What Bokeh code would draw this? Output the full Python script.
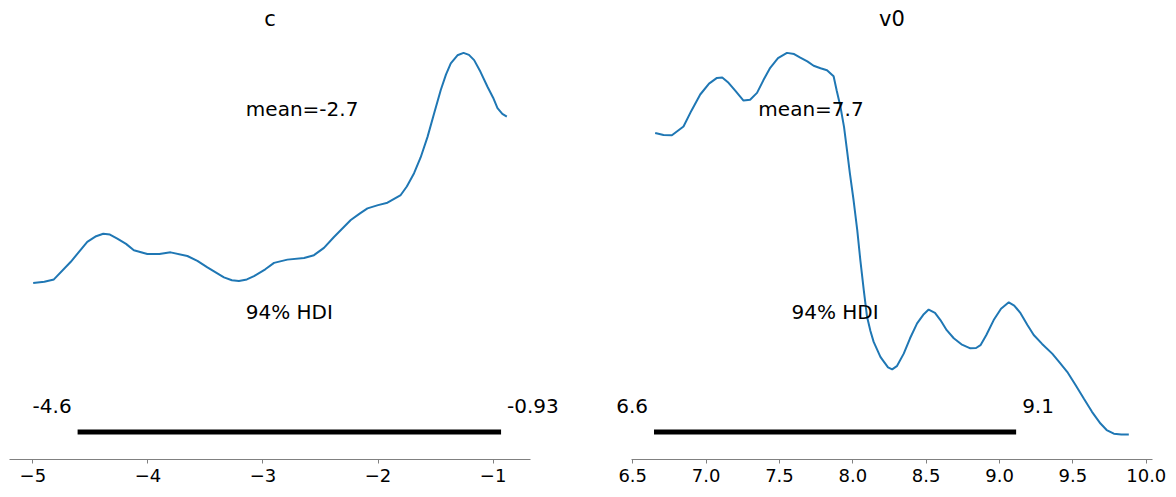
from bokeh.plotting import figure
from bokeh.layouts import row
from bokeh.models import Range1d, FixedTicker, Label
from bokeh.embed import file_html
from bokeh.resources import INLINE

# ---- data ----
c_x = [-4.997, -4.90, -4.817, -4.672, -4.527, -4.45, -4.388, -4.33, -4.266, -4.19,
       -4.122, -4.005, -3.90, -3.803, -3.657, -3.57, -3.483, -3.339, -3.27, -3.209,
       -3.14, -3.078, -2.98, -2.904, -2.788, -2.643, -2.557, -2.47, -2.383, -2.237,
       -2.16, -2.092, -2.00, -1.918, -1.803, -1.75, -1.687, -1.63, -1.570, -1.51,
       -1.455, -1.41, -1.368, -1.31, -1.257, -1.21, -1.165, -1.11, -1.049, -1.00,
       -0.962, -0.92, -0.881]
c_density = [0.389, 0.392, 0.398, 0.441, 0.491, 0.505, 0.511, 0.509, 0.499, 0.486,
             0.470, 0.461, 0.461, 0.465, 0.456, 0.444, 0.428, 0.403, 0.396, 0.394,
             0.398, 0.406, 0.423, 0.439, 0.447, 0.451, 0.458, 0.476, 0.503, 0.545,
             0.561, 0.574, 0.582, 0.588, 0.607, 0.628, 0.661, 0.700, 0.751, 0.812,
             0.867, 0.905, 0.933, 0.953, 0.959, 0.954, 0.941, 0.912, 0.875, 0.848,
             0.822, 0.808, 0.801]
c_mean = -2.66
c_hdi = [-4.611, -0.931]
c_hdi_labels = ["-4.6", "-0.93"]
c_mean_label = "mean=-2.7"
c_ticks = [-5, -4, -3, -2, -1]
c_tick_labels = ["\u22125", "\u22124", "\u22123", "\u22122", "\u22121"]

v0_x = [6.653, 6.71, 6.767, 6.846, 6.90, 6.960, 7.02, 7.074, 7.11, 7.153,
        7.20, 7.255, 7.30, 7.347, 7.39, 7.437, 7.49, 7.551, 7.60, 7.642,
        7.69, 7.733, 7.78, 7.824, 7.869, 7.89, 7.915, 7.94, 7.960, 7.98,
        8.005, 8.03, 8.051, 8.075, 8.097, 8.12, 8.142, 8.188, 8.210, 8.24,
        8.268, 8.30, 8.347, 8.39, 8.438, 8.48, 8.517, 8.56, 8.597, 8.64,
        8.688, 8.74, 8.801, 8.84, 8.870, 8.91, 8.960, 9.01, 9.063, 9.10,
        9.143, 9.19, 9.233, 9.29, 9.359, 9.41, 9.461, 9.52, 9.574, 9.63,
        9.688, 9.73, 9.779, 9.83, 9.881]
v0_density = [0.760, 0.755, 0.754, 0.776, 0.815, 0.855, 0.882, 0.896, 0.897, 0.884,
              0.864, 0.840, 0.842, 0.859, 0.890, 0.921, 0.945, 0.958, 0.955, 0.946,
              0.937, 0.926, 0.920, 0.915, 0.900, 0.865, 0.826, 0.775, 0.718, 0.660,
              0.594, 0.520, 0.446, 0.370, 0.305, 0.270, 0.243, 0.206, 0.195, 0.180,
              0.175, 0.183, 0.214, 0.252, 0.289, 0.310, 0.323, 0.315, 0.297, 0.272,
              0.252, 0.237, 0.227, 0.228, 0.235, 0.260, 0.297, 0.325, 0.341, 0.333,
              0.314, 0.285, 0.260, 0.238, 0.214, 0.192, 0.169, 0.135, 0.103, 0.070,
              0.041, 0.025, 0.016, 0.014, 0.014]
v0_mean = 7.715
v0_hdi = [6.645, 9.113]
v0_hdi_labels = ["6.6", "9.1"]
v0_mean_label = "mean=7.7"
v0_ticks = [6.5, 7.0, 7.5, 8.0, 8.5, 9.0, 9.5, 10.0]
v0_tick_labels = ["6.5", "7.0", "7.5", "8.0", "8.5", "9.0", "9.5", "10.0"]

FONT = "DejaVu Sans"
TXT = "20px"
TICK = "18px"
TITLE_PX = 21
FIG_W = 588
FRAME_W = 521

# approximate DejaVu Sans advance widths (em) used to centre the titles
_ADV = {"c": 0.550, "v": 0.592, "0": 0.636}


def text_width(s, size):
    return sum(_ADV.get(ch, 0.6) for ch in s) * size


def add_label(p, x, y, text, align, x_off=0):
    p.add_layout(Label(x=x, y=y, text=text, text_align=align,
                       text_baseline="alphabetic", text_font=FONT,
                       text_font_size=TXT, text_color="black",
                       x_offset=x_off, y_offset=6))


def panel(title, xs, dens, mean, hdi, hdi_labels, mean_label, ticks, tick_labels,
          axis_left_px):
    xmin, xmax = min(xs), max(xs)
    r = xmax - xmin
    lo, hi = xmin - 0.05 * r, xmax + 0.05 * r       # axis limits (5% margins)
    ppu = FRAME_W / (hi - lo)                        # pixels per data unit
    # the frame spans the whole figure width so that texts are not clipped;
    # the axis line itself is limited to [lo, hi]
    x_start = lo - axis_left_px / ppu
    x_end = hi + (FIG_W - axis_left_px - FRAME_W) / ppu
    dmax = max(dens)
    height_top = 1.05 * dmax  # plot height (upper y limit)
    p = figure(width=FIG_W, height=497, output_backend="svg", toolbar_location=None,
               x_range=Range1d(x_start, x_end),
               y_range=Range1d(-0.05 * dmax, height_top),
               min_border_left=0, min_border_right=0,
               min_border_top=33, min_border_bottom=38, title=title)
    p.title.align = "left"
    p.title.offset = axis_left_px + FRAME_W / 2 - text_width(title, TITLE_PX) / 2
    p.title.text_font = FONT
    p.title.text_font_size = f"{TITLE_PX}px"
    p.title.text_font_style = "normal"
    p.title.text_color = "black"
    p.title.standoff = 6
    p.outline_line_color = None
    p.grid.visible = False
    p.yaxis.visible = False
    p.background_fill_color = "white"
    p.border_fill_color = "white"

    ax = p.xaxis[0]
    ax.bounds = (lo, hi)
    ax.ticker = FixedTicker(ticks=ticks)
    ax.major_label_overrides = {t: l for t, l in zip(ticks, tick_labels)}
    ax.minor_tick_line_color = None
    ax.axis_line_color = "#808080"
    ax.major_tick_line_color = "#808080"
    ax.major_tick_out = 4
    ax.major_tick_in = 0
    ax.major_label_standoff = 5
    ax.major_label_text_font = FONT
    ax.major_label_text_font_size = TICK
    ax.major_label_text_color = "black"

    p.line(xs, dens, line_color="#1f77b4", line_width=2)
    p.line(hdi, [0.02 * height_top] * 2, line_color="black", line_width=5,
           line_cap="butt")

    add_label(p, mean, 0.8 * height_top, mean_label, "center")
    add_label(p, (hdi[0] + hdi[1]) / 2, 0.3 * height_top, "94% HDI", "center")
    add_label(p, hdi[0], 0.07 * height_top, hdi_labels[0], "right", -6)
    add_label(p, hdi[1], 0.07 * height_top, hdi_labels[1], "left", 6)
    return p


p1 = panel("c", c_x, c_density, c_mean, c_hdi, c_hdi_labels, c_mean_label,
           c_ticks, c_tick_labels, 9)
p2 = panel("v0", v0_x, v0_density, v0_mean, v0_hdi, v0_hdi_labels, v0_mean_label,
           v0_ticks, v0_tick_labels, 43)

layout = row(p1, p2)
open("out.html", "w").write(file_html(layout, INLINE))
